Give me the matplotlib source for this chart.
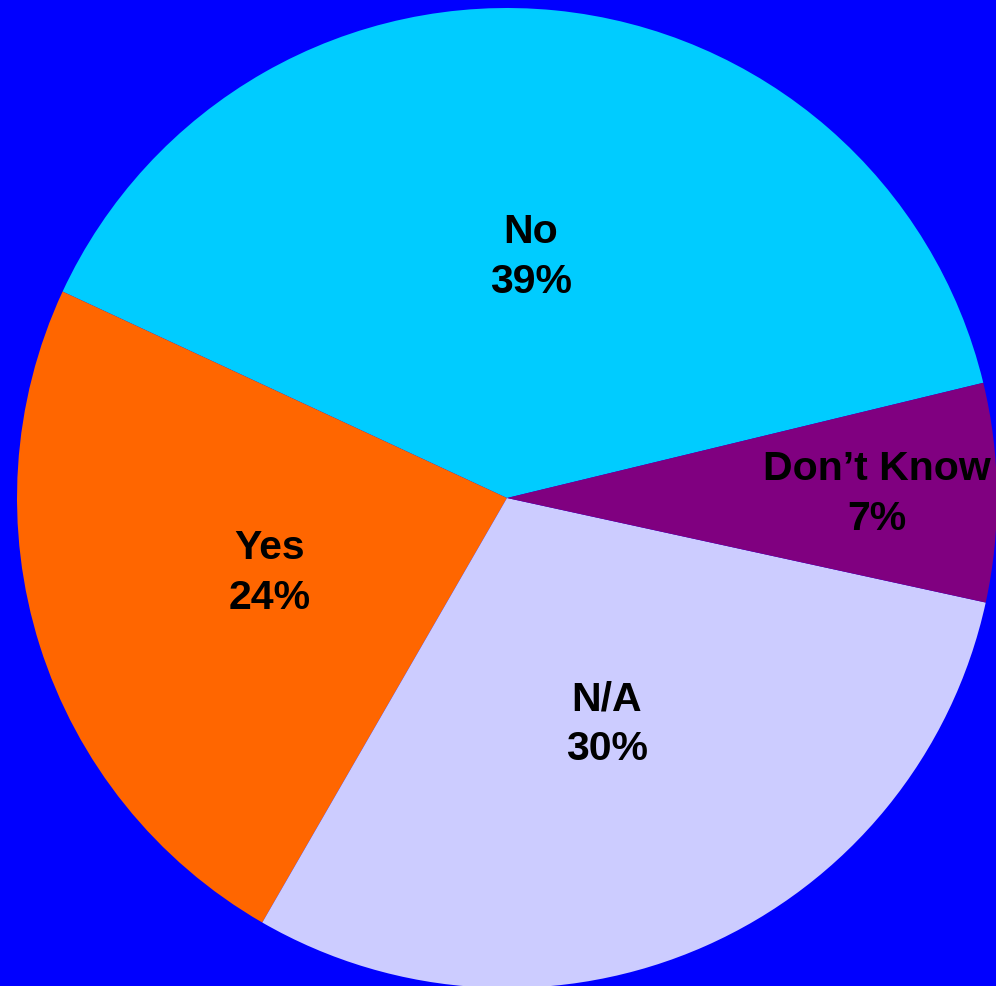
import numpy as np
import matplotlib
matplotlib.use("Agg")
import matplotlib.pyplot as plt

categories = ["No", "Yes", "N/A", "Don\u2019t Know"]
values = [39.3, 23.6, 29.9, 7.2]
colors = ["#00CCFF", "#FF6600", "#CCCCFF", "#800080"]
label_dist = [0.494, 0.508, 0.504, 0.755]

W, H = 996, 986
fig = plt.figure(figsize=(W / 100, H / 100), dpi=100)
fig.patch.set_facecolor("#0000FF")

cx, cy, R = 507, 498, 490
ax = fig.add_axes([(cx - R) / W, (H - cy - R) / H, 2 * R / W, 2 * R / H])
ax.set_facecolor("#0000FF")

wedges, _ = ax.pie(values, colors=colors, startangle=13.6, counterclock=True,
                   radius=1.0, wedgeprops=dict(linewidth=0))
ax.set_xlim(-1, 1)
ax.set_ylim(-1, 1)
ax.set_aspect("equal")
ax.axis("off")

total = sum(values)
for w, cat, v, d in zip(wedges, categories, values, label_dist):
    ang = np.deg2rad((w.theta1 + w.theta2) / 2)
    ax.text(d * np.cos(ang), d * np.sin(ang), f"{cat}\n{round(v / total * 100)}%",
            ha="center", va="center", fontsize=29.5, fontweight="bold",
            family=["Liberation Sans", "DejaVu Sans"], color="black",
            linespacing=1.38)

fig.savefig("out.png", dpi=100, facecolor=fig.get_facecolor())
